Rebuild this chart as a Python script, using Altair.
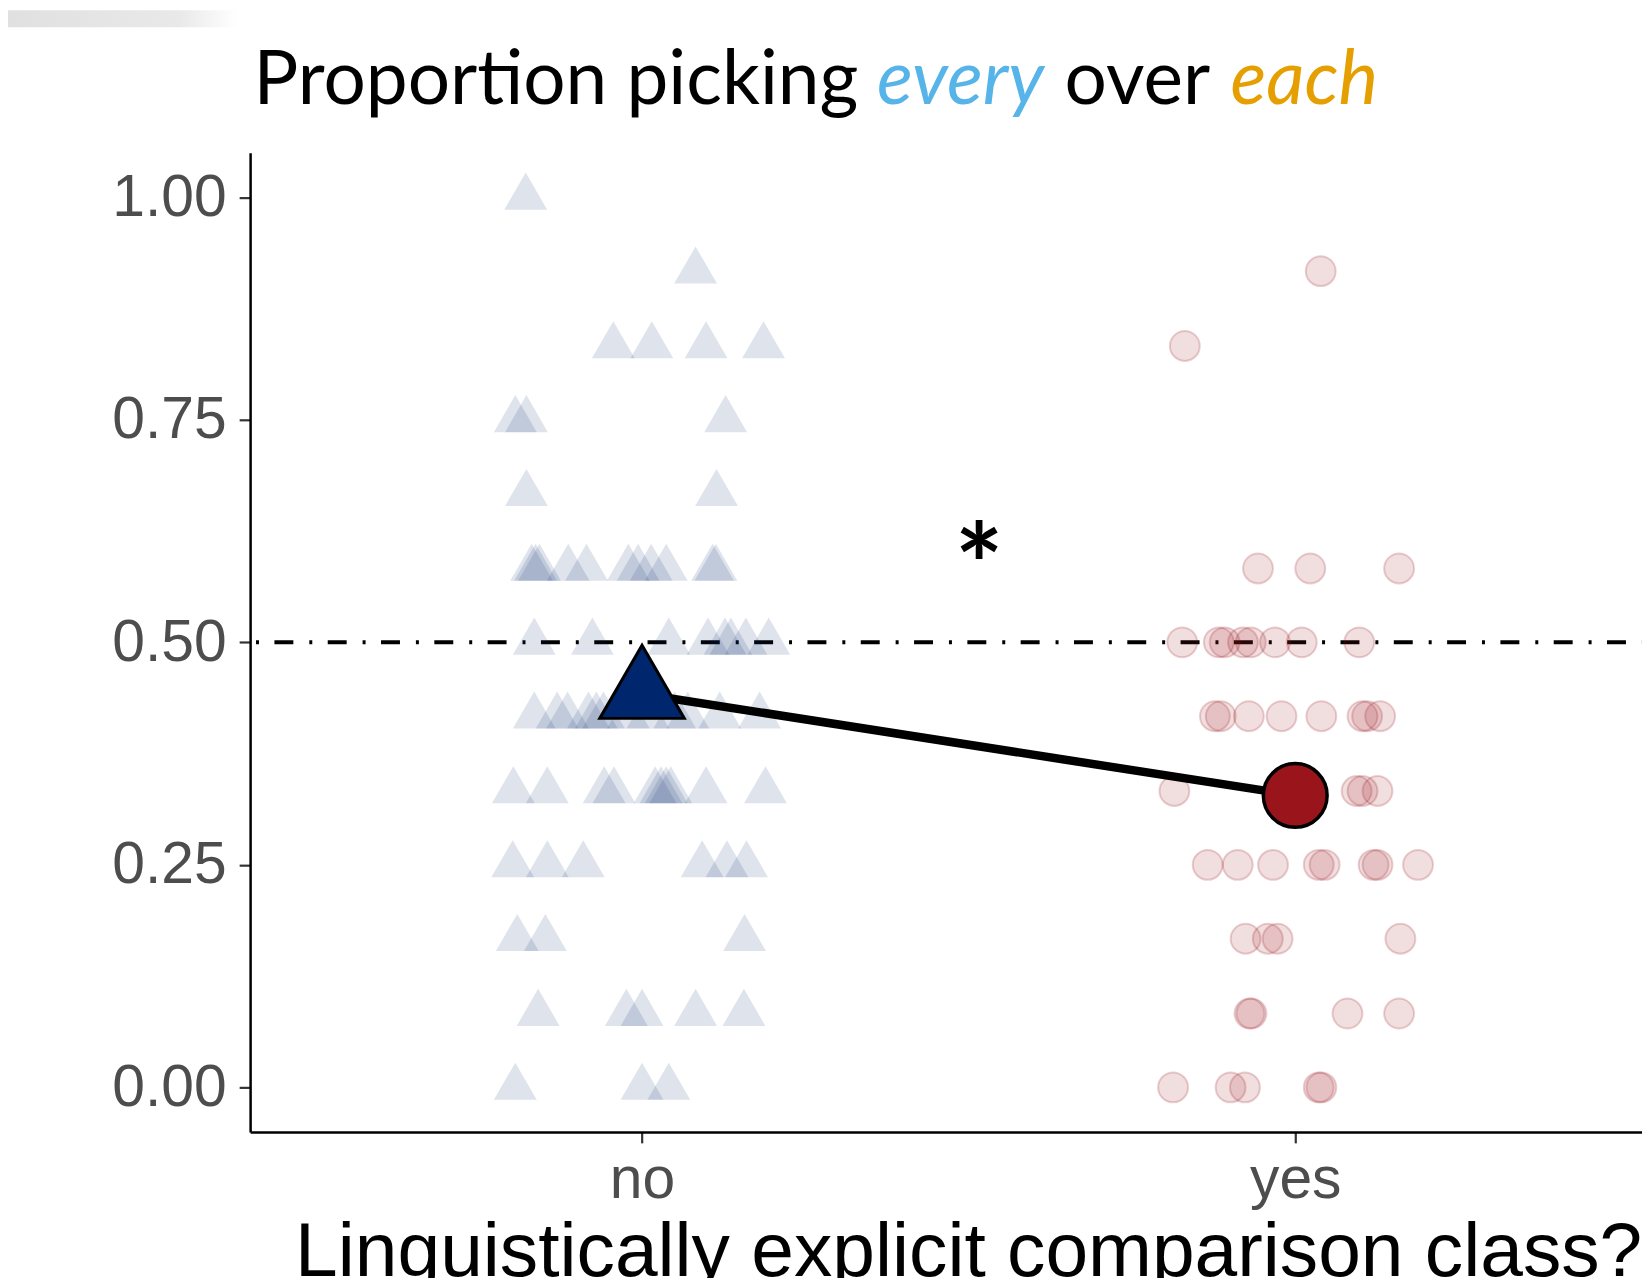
import altair as alt
import pandas as pd

# ---------------- data ----------------
# y levels of individual participants and horizontal jitter offsets (data units)
no_levels = [1.0, 0.917, 0.833, 0.75, 0.667, 0.583, 0.5, 0.417, 0.333, 0.25, 0.167, 0.083, 0.0]
no_offsets = [
    [-0.178],
    [0.082],
    [-0.044, 0.015, 0.098, 0.186],
    [-0.194, -0.177, 0.128],
    [-0.177, 0.114],
    [-0.169, -0.163, -0.157, -0.113, -0.085, -0.021, -0.006, 0.014, 0.037, 0.108, 0.113],
    [-0.165, -0.076, 0.041, 0.101, 0.127, 0.136, 0.159, 0.194],
    [-0.165, -0.130, -0.114, -0.082, -0.070, -0.059, -0.021, 0.009, 0.050, 0.070, 0.119, 0.180],
    [-0.197, -0.145, -0.058, -0.043, 0.020, 0.029, 0.037, 0.044, 0.098, 0.189],
    [-0.198, -0.145, -0.090, 0.092, 0.130, 0.160],
    [-0.191, -0.148, 0.157],
    [-0.159, -0.024, 0.0, 0.082, 0.156],
    [-0.194, 0.0, 0.041],
]
yes_levels = [0.917, 0.833, 0.583, 0.5, 0.417, 0.333, 0.25, 0.167, 0.083, 0.0]
yes_offsets = [
    [0.039],
    [-0.169],
    [-0.057, 0.023, 0.159],
    [-0.173, -0.117, -0.108, -0.080, -0.068, -0.031, 0.010, 0.098],
    [-0.123, -0.114, -0.071, -0.021, 0.040, 0.103, 0.110, 0.130],
    [-0.185, 0.094, 0.103, 0.126],
    [-0.134, -0.088, -0.034, 0.036, 0.045, 0.120, 0.126, 0.188],
    [-0.076, -0.042, -0.027, 0.161],
    [-0.070, -0.067, 0.080, 0.159],
    [-0.187, -0.099, -0.077, 0.036, 0.040],
]
groups = ["no", "yes"]
group_pos = [1, 2]
means = [0.442, 0.328]
chance = [0.5]
y_ticks = [0.0, 0.25, 0.5, 0.75, 1.0]

title_words = ["Proportion picking", "every", "over", "each"]
title_colors = ["#000000", "#56B4E9", "#000000", "#E69F00"]
title_italic = [False, True, False, True]
x_title = "Linguistically explicit comparison class?"
star = "*"

# ---------------- tables ----------------
def build(levels, offsets, center):
    rows = []
    for lvl, offs in zip(levels, offsets):
        for o in offs:
            rows.append({"x": center + o, "y": lvl})
    return pd.DataFrame(rows)

no_df = build(no_levels, no_offsets, group_pos[0])
yes_df = build(yes_levels, yes_offsets, group_pos[1])
mean_df = pd.DataFrame({"x": group_pos, "y": means, "g": groups})

NAVY = "#00266E"
RED = "#9A141C"
# equilateral triangle centred on its centroid (as R/ggplot draws it)
TRI = "M0,-1.1547L1,0.5774L-1,0.5774Z"

PAD_L = 243.0
WIDTH = 1397.0
XMAX = 0.4 + WIDTH / 655.6

xs = alt.Scale(domain=[0.4, XMAX], nice=False, zero=False)
ys = alt.Scale(domain=[-0.05, 1.05], nice=False, zero=False)

x_axis = alt.Axis(
    values=group_pos,
    labelExpr="datum.value == 1 ? 'no' : 'yes'",
    title=x_title,
    labelBaseline="alphabetic",
    labelPadding=55,
    titleX=971.7 - 8 - PAD_L,
    titleY=144,
    titleAlign="center",
    titleBaseline="alphabetic",
)
y_axis = alt.Axis(values=y_ticks, format=".2f", title=None,
                  labelBaseline="middle", labelPadding=13)

X = alt.X("x:Q", scale=xs, axis=x_axis)
Y = alt.Y("y:Q", scale=ys, axis=y_axis)

blob = alt.Chart(pd.DataFrame({"k": [0]})).mark_rect(
    color=alt.LinearGradient(
        gradient="linear",
        stops=[alt.GradientStop(color="#e0e0e0", offset=0),
               alt.GradientStop(color="#e9e9e9", offset=0.75),
               alt.GradientStop(color="#ffffff", offset=1)],
        x1=0, x2=1, y1=0, y2=0,
    )
).encode(x=alt.value(-PAD_L), x2=alt.value(-13), y=alt.value(-143), y2=alt.value(-126))

hline = alt.Chart(pd.DataFrame({"y": chance})).mark_rule(
    color="black", strokeWidth=4, strokeDash=[19, 15.5, 3, 16], strokeDashOffset=37.4
).encode(y=Y)

tri = alt.Chart(no_df).mark_point(
    shape=TRI, filled=True, size=1849, fill=NAVY, fillOpacity=0.13, strokeWidth=0
).encode(x=X, y=Y)

circ = alt.Chart(yes_df).mark_point(
    shape="circle", filled=True, size=900, fill=RED, fillOpacity=0.14,
    stroke=RED, strokeOpacity=0.2, strokeWidth=2
).encode(x=X, y=Y)

line = alt.Chart(mean_df).mark_line(color="black", strokeWidth=8.5).encode(x=X, y=Y)

mean_tri = alt.Chart(mean_df[mean_df.g == "no"]).mark_point(
    shape=TRI, filled=True, size=7200, fill=NAVY, fillOpacity=1,
    stroke="black", strokeWidth=3, opacity=1
).encode(x=X, y=Y)

mean_circ = alt.Chart(mean_df[mean_df.g == "yes"]).mark_point(
    shape="circle", filled=True, size=4096, fill=RED, fillOpacity=1,
    stroke="black", strokeWidth=3.5, opacity=1
).encode(x=X, y=Y)

star_layer = alt.Chart(pd.DataFrame({"t": [star]})).mark_text(
    font="Lato", fontSize=115, fontWeight="bold", color="black",
    align="center", baseline="alphabetic"
).encode(text="t:N", x=alt.value(982.6 - 8 - PAD_L), y=alt.value(456))

title_x = [558.0, 964.0, 1141.5, 1309.0]  # page-pixel centres of the words
word_layers = []
for w, c, it, px in zip(title_words, title_colors, title_italic, title_x):
    word_layers.append(
        alt.Chart(pd.DataFrame({"t": [w]})).mark_text(
            font="Lato", fontSize=75, fontStyle="italic" if it else "normal",
            color=c, align="center", baseline="alphabetic"
        ).encode(text="t:N", x=alt.value(px - 8 - PAD_L), y=alt.value(-49))
    )

chart = alt.layer(
    blob, hline, tri, circ, line, mean_tri, mean_circ, star_layer, *word_layers
).properties(
    width=WIDTH,
    height=982.7,
    padding={"left": PAD_L, "top": 143, "right": 0, "bottom": 144},
    autosize=alt.AutoSizeParams(type="none"),
    background="white",
).configure_view(stroke=None).configure_axis(
    grid=False,
    domainColor="black",
    domainWidth=2.5,
    tickColor="#333333",
    tickWidth=2.2,
    tickSize=11,
    labelFont="Liberation Sans",
    labelFontSize=59,
    labelColor="#4D4D4D",
    titleFont="Liberation Sans",
    titleFontSize=77,
    titleFontWeight="normal",
    titleColor="black",
)

chart.save("out.html", embed_options={"renderer": "svg", "actions": False})
